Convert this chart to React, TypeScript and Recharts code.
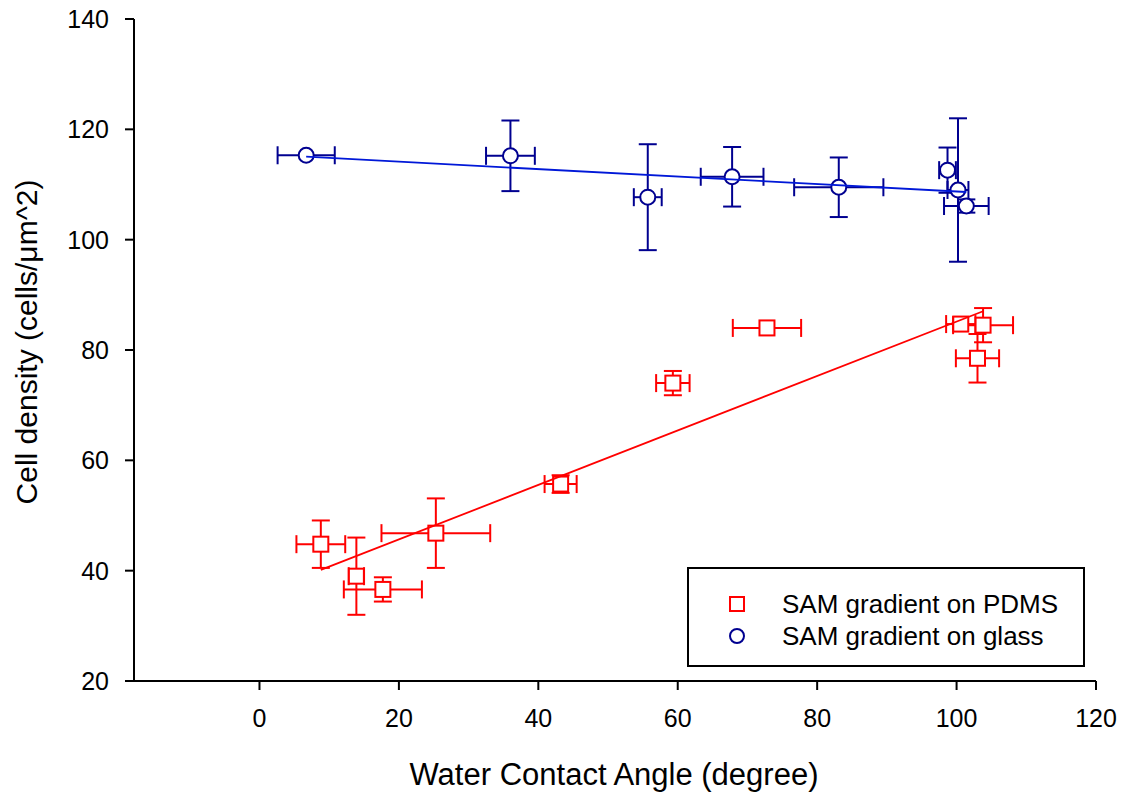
import React from "react";
import {
  ScatterChart,
  Scatter,
  XAxis,
  YAxis,
  ErrorBar,
  Legend,
} from "recharts";

const FONT = "'Liberation Sans', Arial, sans-serif";
const RED = "#ff0000";
const NAVY = "#000090";
const BLUE_LINE = "#0018d8";

// SAM gradient on PDMS
const pdmsAngle = [8.8, 13.9, 17.7, 25.3, 43.2, 59.3, 72.8, 100.6, 103.8, 103.0];
const pdmsAngleErr = [3.5, 1.1, 5.6, 7.8, 2.3, 2.4, 4.9, 2.1, 4.3, 3.1];
const pdmsDensity = [44.8, 39.0, 36.6, 46.8, 55.7, 74.0, 84.0, 84.7, 84.5, 78.5];
const pdmsDensityErr = [4.3, 7.0, 2.2, 6.3, 1.6, 2.2, null, null, 3.1, 4.4];

// SAM gradient on glass
const glassAngle = [6.7, 36.0, 55.7, 67.8, 83.1, 98.7, 100.2, 101.4];
const glassAngleErr = [4.1, 3.5, 2.0, 4.5, 6.4, 1.2, 1.5, 3.2];
const glassDensity = [115.3, 115.2, 107.7, 111.4, 109.5, 112.6, 109.0, 106.1];
const glassDensityErr = [null, 6.4, 9.6, 5.4, 5.4, 4.1, 13.0, 1.2];

const xTicks = [0, 20, 40, 60, 80, 100, 120];
const yTicks = [20, 40, 60, 80, 100, 120, 140];
const xDomain = [-18, 120];
const yDomain = [20, 140];

const xTitle = "Water Contact Angle (degree)";
const yTitle = "Cell density (cells/\u03bcm^2)";

const legendItems = [
  { name: "SAM gradient on PDMS", color: RED, shape: "square" },
  { name: "SAM gradient on glass", color: NAVY, shape: "circle" },
];

type Pt = { x: number; y: number; ex: number | null; ey: number | null };

function toPoints(xs: number[], xe: (number | null)[], ys: number[], ye: (number | null)[]): Pt[] {
  return xs.map((x, i) => ({ x, y: ys[i], ex: xe[i], ey: ye[i] }));
}

// least squares fit drawn over the data range
function fitLine(xs: number[], ys: number[]) {
  const n = xs.length;
  const mx = xs.reduce((a, b) => a + b, 0) / n;
  const my = ys.reduce((a, b) => a + b, 0) / n;
  let sxy = 0;
  let sxx = 0;
  xs.forEach((x, i) => {
    sxy += (x - mx) * (ys[i] - my);
    sxx += (x - mx) * (x - mx);
  });
  const k = sxy / sxx;
  const lo = Math.min(...xs);
  const hi = Math.max(...xs);
  return [
    { x: lo, y: my + k * (lo - mx) },
    { x: hi, y: my + k * (hi - mx) },
  ];
}

const pdmsData = toPoints(pdmsAngle, pdmsAngleErr, pdmsDensity, pdmsDensityErr);
const glassData = toPoints(glassAngle, glassAngleErr, glassDensity, glassDensityErr);
const pdmsFit = fitLine(pdmsAngle, pdmsDensity);
const glassFit = fitLine(glassAngle, glassDensity);

const Square = (props: any) => {
  const { cx, cy } = props;
  return <rect x={cx - 7.5} y={cy - 7.5} width={15} height={15} fill="#fff" stroke={RED} strokeWidth={2} />;
};

const Circle = (props: any) => {
  const { cx, cy } = props;
  return <circle cx={cx} cy={cy} r={7.5} fill="#fff" stroke={NAVY} strokeWidth={2} />;
};

const Nothing = () => <g />;

const XTitle = () => (
  <text x={614} y={785} textAnchor="middle" fill="#000" fontSize={31} fontFamily={FONT}>
    {xTitle}
  </text>
);

const YTitle = () => (
  <text
    x={37}
    y={342}
    transform="rotate(-90 37 342)"
    textAnchor="middle"
    fill="#000"
    fontSize={30}
    fontFamily={FONT}
  >
    {yTitle}
  </text>
);

function LegendBox() {
  return (
    <div
      style={{
        border: "2px solid #000",
        boxSizing: "border-box",
        width: 398,
        height: 100,
        paddingTop: 19,
        fontFamily: FONT,
        fontSize: 26,
        background: "#fff",
      }}
    >
      {legendItems.map((it) => (
        <div key={it.name} style={{ display: "flex", alignItems: "center", height: 32 }}>
          <svg width={93} height={20} style={{ flex: "none" }}>
            {it.shape === "square" ? (
              <rect x={41} y={3} width={14} height={14} fill="#fff" stroke={it.color} strokeWidth={2} />
            ) : (
              <circle cx={48} cy={10} r={7} fill="#fff" stroke={it.color} strokeWidth={2} />
            )}
          </svg>
          <span>{it.name}</span>
        </div>
      ))}
    </div>
  );
}

const tickStyle = { fill: "#000", fontSize: 25, fontFamily: FONT };

export default function App() {
  return (
    <div style={{ position: "absolute", left: 0, top: 0, background: "#fff" }}>
      <ScatterChart width={1125} height={795} margin={{ top: 19, right: 29, bottom: 0, left: 0 }}>
        <XAxis
          dataKey="x"
          type="number"
          domain={xDomain}
          ticks={xTicks}
          allowDataOverflow
          height={114}
          tick={tickStyle}
          tickSize={9}
          tickMargin={19}
          axisLine={{ stroke: "#000", strokeWidth: 2 }}
          tickLine={{ stroke: "#000", strokeWidth: 2 }}
          label={<XTitle />}
        />
        <XAxis
          xAxisId="top"
          orientation="top"
          type="number"
          domain={xDomain}
          allowDataOverflow
          height={0}
          tick={false}
          tickLine={false}
          axisLine={{ stroke: "#000", strokeWidth: 1 }}
        />
        <YAxis
          dataKey="y"
          type="number"
          domain={yDomain}
          ticks={yTicks}
          allowDataOverflow
          width={134}
          tick={tickStyle}
          tickSize={9}
          tickMargin={16}
          axisLine={{ stroke: "#000", strokeWidth: 2 }}
          tickLine={{ stroke: "#000", strokeWidth: 2 }}
          label={<YTitle />}
        />
        <YAxis
          yAxisId="right"
          orientation="right"
          type="number"
          domain={yDomain}
          allowDataOverflow
          width={0}
          tick={false}
          tickLine={false}
          axisLine={{ stroke: "#000", strokeWidth: 1 }}
        />
        <Scatter name="SAM gradient on PDMS" data={pdmsData} shape={Square} isAnimationActive={false}>
          <ErrorBar dataKey="ex" direction="x" width={9} stroke={RED} strokeWidth={2} />
          <ErrorBar dataKey="ey" direction="y" width={9} stroke={RED} strokeWidth={2} />
        </Scatter>
        <Scatter name="SAM gradient on glass" data={glassData} shape={Circle} isAnimationActive={false}>
          <ErrorBar dataKey="ex" direction="x" width={9} stroke={NAVY} strokeWidth={2} />
          <ErrorBar dataKey="ey" direction="y" width={9} stroke={NAVY} strokeWidth={2} />
        </Scatter>
        <Scatter
          data={pdmsFit}
          shape={Nothing}
          line={{ stroke: RED, strokeWidth: 1.8 }}
          legendType="none"
          isAnimationActive={false}
        />
        <Scatter
          data={glassFit}
          shape={Nothing}
          line={{ stroke: BLUE_LINE, strokeWidth: 1.8 }}
          legendType="none"
          isAnimationActive={false}
        />
        <Legend
          layout="vertical"
          align="center"
          verticalAlign="middle"
          content={() => <LegendBox />}
          wrapperStyle={{ left: 687, top: 567, width: 398, height: 100 }}
        />
      </ScatterChart>
    </div>
  );
}
